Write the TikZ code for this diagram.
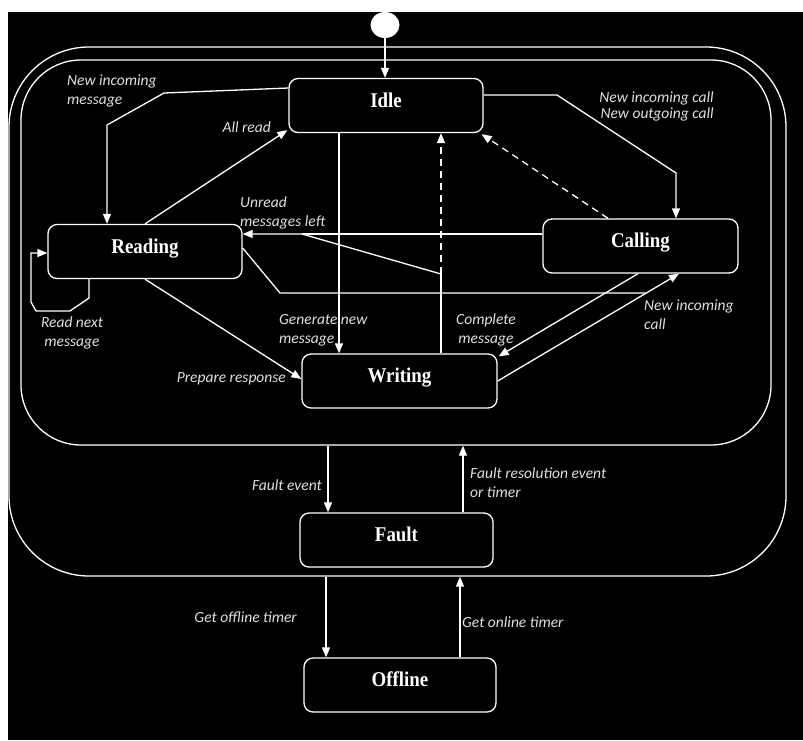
\documentclass[tikz,border=0pt]{standalone}
\usepackage{fontspec}
\usepackage{graphicx}
\usetikzlibrary{arrows.meta,shapes.geometric,calc}
\newfontfamily\lblfont{Carlito}
\newfontfamily\statefam{Liberation Serif}
\definecolor{lbltxt}{gray}{0.88}
\newcommand{\stxt}[1]{\scalebox{0.9}[1]{#1}}
\begin{document}
\begin{tikzpicture}[x=1pt,y=-1pt,
  stbox/.style={draw=white, line width=1.3pt, rounded corners=9pt, fill=black, text=white,
    minimum width=194pt, minimum height=54pt, inner sep=0pt, text height=11pt, text depth=8pt,
    font=\statefam\bfseries\fontsize{21}{21}\selectfont},
  lbl/.style={text=lbltxt, font=\lblfont\itshape\fontsize{15.5}{19}\selectfont, inner sep=0pt},
  conn/.style={draw=white, line width=1.3pt},
  arr/.style={conn, -{Triangle[length=10pt,width=8pt]}},
  dsh/.style={arr, dash pattern=on 7pt off 5pt},
  frame/.style={draw=white, line width=1.3pt, rectangle, inner sep=0pt}
]
\useasboundingbox (0,0) rectangle (803,740);
\fill[white] (0,0) rectangle (803,740);
\fill[black] (8,12) rectangle (803,740);

% frames
\node[frame, rounded corners=80pt, minimum width=777pt, minimum height=529pt] (outer) at (397.5,311.5) {};
\node[frame, rounded corners=60pt, minimum width=750pt, minimum height=385pt] (inner) at (396,252.5) {};

% states
\node[stbox] (idle) at (386,105.5) {\stxt{Idle}};
\node[stbox] (reading) at (145,251.5) {\stxt{Reading}};
\node[stbox, minimum width=195pt] (calling) at (640.5,246) {\stxt{Calling}};
\node[stbox, minimum width=195pt] (writing) at (399.5,381) {\stxt{Writing}};
\node[stbox, minimum width=193pt] (fault) at (396.5,540) {\stxt{Fault}};
\node[stbox, minimum width=192pt] (offline) at (400,685) {\stxt{Offline}};

% initial
\node[ellipse, fill=white, minimum width=29pt, minimum height=26pt, inner sep=0pt] (init) at (385,25) {};
\draw[arr] (init.south) -- (init |- idle.north);

% new incoming message
\coordinate (nim1) at (164,93);
\coordinate (nim2) at (107,125);
\draw[arr] ([yshift=17.5pt]idle.west) -- (nim1) -- (nim2) -- (nim2 |- reading.north);

% all read
\draw[arr] (reading.north) -- ([xshift=-1pt,yshift=3pt]idle.south west);

% new incoming / outgoing call
\coordinate (nic1) at (557,95);
\coordinate (nic2) at (676,173);
\draw[arr] ([yshift=10.5pt]idle.east) -- (nic1) -- (nic2) -- (nic2 |- calling.north);

% calling -> idle dashed
\draw[dsh] ([xshift=-32.5pt]calling.north) -- ([xshift=-2pt,yshift=-1pt]idle.south east);

% writing -> idle dashed, writing -> reading (unread)
\coordinate (wj) at (441,274);
\coordinate (uj) at (302,234);
\draw[conn] ([xshift=41.5pt]writing.north) -- (wj);
\draw[dsh] (wj) -- (wj |- idle.south);
\draw[arr] (wj) -- (uj) -- (uj -| reading.east);
\draw[conn] ([yshift=12pt]calling.west) -- (uj);

% reading -> calling (merging)
\coordinate (rc1) at (280,293);
\coordinate (rc2) at (645.3,293);
\draw[conn] ([yshift=3.5pt]reading.east) -- (rc1) -- (rc2);

% writing -> calling
\draw[arr] (writing.east) -- ([xshift=38.5pt]calling.south);
% calling -> writing
\draw[arr] ([xshift=-2.5pt]calling.south) -- ([xshift=1pt,yshift=-3pt]writing.north east);

% generate new message
\coordinate (gn) at (339,0);
\draw[arr] (gn |- idle.south) -- (gn |- writing.north);

% prepare response
\draw[arr] (reading.south) -- ([yshift=2pt]writing.west);

% read next message loop
\coordinate (l1) at (89,298);
\coordinate (l2) at (70,311);
\coordinate (l3) at (36,311);
\coordinate (l4) at (31,302);
\coordinate (l5) at (31,253);
\draw[arr] (l1 |- reading.south) -- (l1) -- (l2) -- (l3) -- (l4) -- (l5) -- (l5 -| reading.west);

% fault / offline
\coordinate (fe) at (328,0);
\coordinate (fr) at (463,0);
\coordinate (go) at (326,0);
\coordinate (gon) at (460,0);
\draw[arr] (fe |- inner.south) -- (fe |- fault.north);
\draw[arr] (fr |- fault.north) -- (fr |- inner.south);
\draw[arr] (go |- outer.south) -- (go |- offline.north);
\draw[arr] (gon |- offline.north) -- (gon |- outer.south);

% labels
\node[lbl, anchor=west, align=left] (t1) at (67,90.5) {New incoming\\message};
\node[lbl, anchor=east] (t2) at (271,127) {All read};
\node[lbl, anchor=east, align=right, font=\lblfont\itshape\fontsize{15.5}{16}\selectfont] (t3) at (714,106.5) {New incoming call\\New outgoing call};
\node[lbl, anchor=west, align=left] (t4) at (240,213) {Unread\\messages left};
\node[lbl, align=center] (t5) at (72,332.5) {Read next\\message};
\node[lbl, anchor=west, align=left] (t6) at (279,330.5) {Generate new\\message};
\node[lbl, align=center] (t7) at (486,329.5) {Complete\\message};
\node[lbl, anchor=west, align=left] (t8) at (644,314.5) {New incoming\\call};
\node[lbl, anchor=east] (t9) at (286,379) {Prepare response};
\node[lbl, anchor=east] (t10) at (322,485) {Fault event};
\node[lbl, anchor=west, align=left] (t11) at (470,482.5) {Fault resolution event\\or timer};
\node[lbl, anchor=east] (t12) at (297,617) {Get offline timer};
\node[lbl, anchor=west] (t13) at (462,622) {Get online timer};
\end{tikzpicture}
\end{document}
